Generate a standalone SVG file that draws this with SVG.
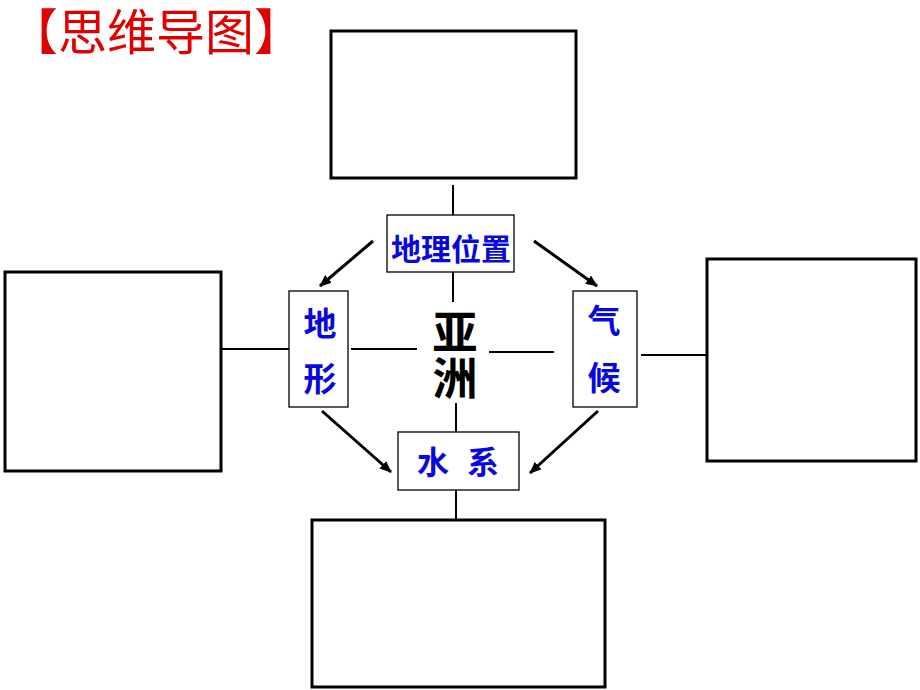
<svg xmlns="http://www.w3.org/2000/svg" width="920" height="690" viewBox="0 0 920 690">
<style>
.big{fill:#fff;stroke:#000;stroke-width:3}
.small{fill:#fff;stroke:#000;stroke-width:1.3}
.ln{stroke:#000;stroke-width:2;fill:none}
.arr{stroke:#000;stroke-width:3;fill:none;marker-end:url(#ah)}
.blue{fill:#0808dc;font-family:"Liberation Sans","Noto Sans CJK SC",sans-serif;font-weight:bold;text-anchor:middle}
.black{fill:#000;font-family:"Liberation Sans","Noto Sans CJK SC",sans-serif;font-weight:bold;text-anchor:middle;font-size:45px}
</style>
<defs>
<marker id="ah" markerWidth="12" markerHeight="10" refX="11" refY="5" orient="auto" markerUnits="userSpaceOnUse">
<path d="M0,0 L12,5 L0,10 Z" fill="#000"/>
</marker>
</defs>
<rect width="920" height="690" fill="#fff"/>
<text x="156" y="50" fill="#e00000" font-family="'Liberation Sans','Noto Sans CJK SC',sans-serif" font-size="49" text-anchor="middle">【思维导图】</text>
<g id="connectors">
<line class="ln" x1="453" y1="185" x2="453" y2="215"/>
<line class="ln" x1="453" y1="272" x2="453" y2="302"/>
<line class="ln" x1="221" y1="349" x2="289" y2="349"/>
<line class="ln" x1="351" y1="349" x2="417" y2="349"/>
<line class="ln" x1="489" y1="352" x2="554" y2="352"/>
<line class="ln" x1="641" y1="355" x2="706" y2="355"/>
<line class="ln" x1="456" y1="403" x2="456" y2="432"/>
<line class="ln" x1="456" y1="490" x2="456" y2="519"/>
<line class="arr" x1="373" y1="241" x2="320" y2="286"/>
<line class="arr" x1="534" y1="241" x2="597" y2="286"/>
<line class="arr" x1="322" y1="411" x2="391" y2="472"/>
<line class="arr" x1="598" y1="411" x2="530" y2="473"/>
</g>
<g id="box-top"><rect class="big" x="331" y="31" width="245" height="147"/></g>
<g id="box-left"><rect class="big" x="5" y="272" width="216" height="199"/></g>
<g id="box-right"><rect class="big" x="707" y="259" width="209" height="202"/></g>
<g id="box-bottom"><rect class="big" x="312" y="520" width="293" height="167"/></g>
<g id="node-location"><rect class="small" x="387" y="215" width="127" height="57"/><text class="blue" x="451" y="260" font-size="30">地理位置</text></g>
<g id="node-terrain"><rect class="small" x="289" y="291" width="59" height="116"/><text class="blue" x="320" y="336" font-size="33">地</text><text class="blue" x="320" y="391" font-size="33">形</text></g>
<g id="node-climate"><rect class="small" x="573" y="291" width="64" height="116"/><text class="blue" x="604" y="333" font-size="33">气</text><text class="blue" x="604" y="390" font-size="33">候</text></g>
<g id="node-asia"><text class="black" x="455" y="349">亚</text><text class="black" x="455" y="395">洲</text></g>
<g id="node-water"><rect class="small" x="398" y="432" width="121" height="58"/><text class="blue" x="458" y="474" font-size="32" xml:space="preserve">水  系</text></g>
</svg>
